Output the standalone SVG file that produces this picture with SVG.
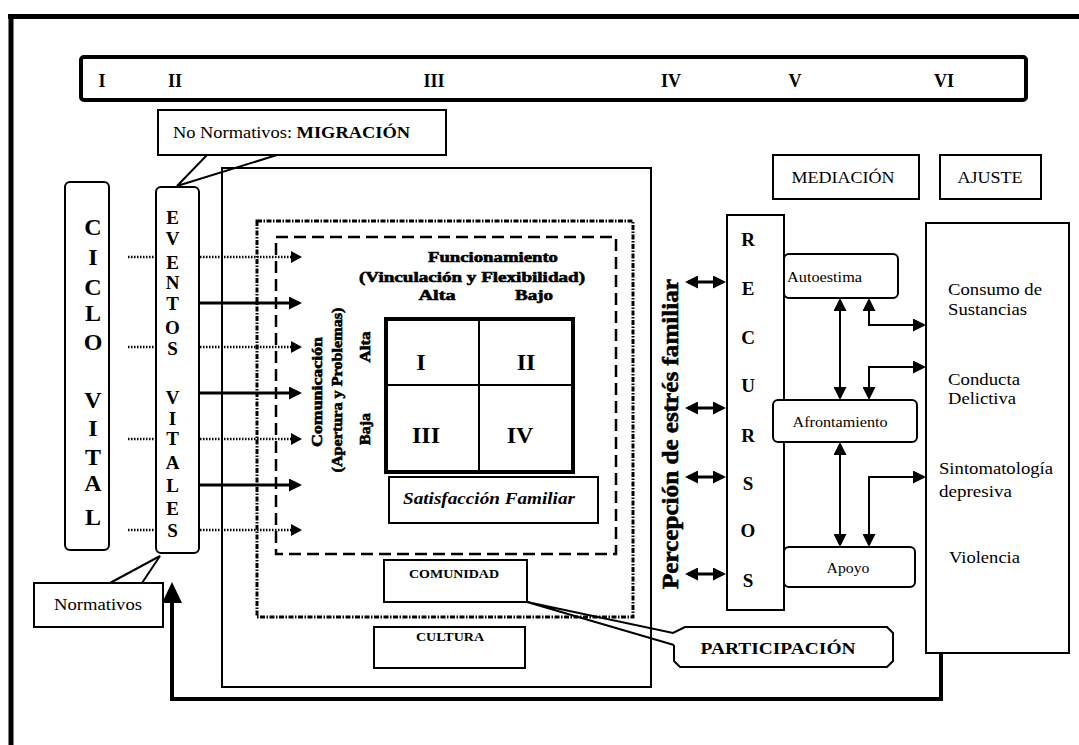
<svg xmlns="http://www.w3.org/2000/svg" width="1079" height="745" viewBox="0 0 1079 745" font-family="'Liberation Serif', 'DejaVu Serif', 'Times New Roman', serif">
<style>
text{font-family:'Liberation Serif','DejaVu Serif','Times New Roman',serif;fill:#000}
.b{font-weight:bold}
.box{fill:#fff;stroke:#000;stroke-width:2}
.ln{fill:none;stroke:#000}
.hv{stroke:#000;stroke-width:0.6}
</style>
<defs>
<marker id="ah" viewBox="0 0 13 13" refX="10" refY="6.5" markerWidth="13" markerHeight="13" markerUnits="userSpaceOnUse" orient="auto-start-reverse"><path d="M0,0 L13,6.5 L0,13 z"/></marker>
<marker id="ad" viewBox="0 0 11 12" refX="9" refY="6" markerWidth="11" markerHeight="12" markerUnits="userSpaceOnUse" orient="auto"><path d="M0,0 L11,6 L0,12 z"/></marker>
<marker id="af" viewBox="0 0 21 20" refX="17" refY="10" markerWidth="21" markerHeight="20" markerUnits="userSpaceOnUse" orient="auto"><path d="M0,0 L21,10 L0,20 z"/></marker>
</defs>
<rect width="1079" height="745" fill="#fff"/>

<g id="frame">
<line x1="8" y1="16.5" x2="1079" y2="16.5" stroke="#000" stroke-width="5"/>
<line x1="11" y1="14" x2="11" y2="745" stroke="#000" stroke-width="5"/>
</g>

<g id="stages">
<rect x="81" y="57" width="945" height="43" rx="3" fill="#fff" stroke="#000" stroke-width="4"/>
<g class="b" font-size="18" text-anchor="middle">
<text x="102" y="87">I</text>
<text x="175" y="87">II</text>
<text x="434" y="87">III</text>
<text x="671" y="87">IV</text>
<text x="795" y="87">V</text>
<text x="944" y="87">VI</text>
</g>
</g>

<g id="sistema">
<rect x="222" y="168" width="429" height="519" fill="none" stroke="#000" stroke-width="2"/>
</g>
<g id="comunidad-limite">
<rect x="257" y="221" width="376" height="396" fill="none" stroke="#000" stroke-width="3" stroke-dasharray="5 1.5 1.5 1.5"/>
</g>
<g id="familia-limite">
<rect x="276" y="237" width="340" height="317" fill="none" stroke="#000" stroke-width="2.5" stroke-dasharray="12 6"/>
</g>

<g id="connectors">
<g class="ln" stroke-width="2.5" stroke-dasharray="1.5 1.5" marker-end="url(#ad)">
<line x1="128" y1="257" x2="300" y2="257"/>
<line x1="128" y1="347" x2="300" y2="347"/>
<line x1="128" y1="439" x2="300" y2="439"/>
<line x1="128" y1="530" x2="300" y2="530"/>
</g>
<g class="ln" stroke-width="3" marker-end="url(#ah)">
<line x1="199" y1="303" x2="299" y2="303"/>
<line x1="199" y1="393" x2="299" y2="393"/>
<line x1="199" y1="485" x2="299" y2="485"/>
</g>
<g class="ln" stroke-width="3" marker-start="url(#ah)" marker-end="url(#ah)">
<line x1="688" y1="282" x2="723" y2="282"/>
<line x1="688" y1="408" x2="723" y2="408"/>
<line x1="688" y1="477" x2="723" y2="477"/>
<line x1="688" y1="574" x2="723" y2="574"/>
</g>
<g class="ln" stroke-width="2" marker-start="url(#ah)" marker-end="url(#ah)">
<line x1="840" y1="301" x2="840" y2="397"/>
<line x1="840" y1="445" x2="840" y2="544"/>
<path d="M869,301 V325 H923"/>
<path d="M923,367 H869 V397"/>
<path d="M923,477 H869 V544"/>
</g>
<path class="ln" stroke-width="4" d="M941,653 V699 H172 V586" marker-end="url(#af)"/>
</g>

<g id="ciclo-vital">
<rect x="65" y="182" width="44" height="368" rx="5" class="box"/>
<g class="b" font-size="24" text-anchor="middle">
<text x="93" y="235">C</text>
<text x="93" y="265">I</text>
<text x="93" y="295">C</text>
<text x="93" y="321">L</text>
<text x="93" y="350">O</text>
<text x="93" y="408">V</text>
<text x="93" y="436">I</text>
<text x="93" y="465">T</text>
<text x="93" y="491">A</text>
<text x="93" y="525">L</text>
</g>
</g>

<g id="eventos-vitales">
<rect x="156" y="187" width="43" height="366" rx="5" class="box"/>
<g class="b" font-size="19" text-anchor="middle">
<text x="172.5" y="224">E</text>
<text x="172.5" y="245">V</text>
<text x="172.5" y="269">E</text>
<text x="172.5" y="289">N</text>
<text x="172.5" y="310">T</text>
<text x="172.5" y="334">O</text>
<text x="172.5" y="355">S</text>
<text x="172.5" y="404">V</text>
<text x="172.5" y="425">I</text>
<text x="172.5" y="445">T</text>
<text x="172.5" y="469">A</text>
<text x="172.5" y="492">L</text>
<text x="172.5" y="515">E</text>
<text x="172.5" y="537">S</text>
</g>
</g>

<g id="no-normativos">
<rect x="158" y="110" width="288" height="45" class="box"/>
<polyline class="ln" stroke-width="2" points="207,155 177,186 277,155"/>
<text x="173" y="138" font-size="17" textLength="237" lengthAdjust="spacingAndGlyphs">No Normativos: <tspan class="b">MIGRACIÓN</tspan></text>
</g>

<g id="normativos">
<rect x="34" y="583" width="129" height="44" class="box"/>
<polyline class="ln" stroke-width="2" points="110,583 160,556 142,583"/>
<text x="98" y="610" font-size="17" text-anchor="middle" textLength="88" lengthAdjust="spacingAndGlyphs">Normativos</text>
</g>

<g id="funcionamiento" class="b hv" font-size="15" text-anchor="middle">
<text x="493" y="262" textLength="130" lengthAdjust="spacingAndGlyphs">Funcionamiento</text>
<text x="472" y="282" textLength="226" lengthAdjust="spacingAndGlyphs">(Vinculación y Flexibilidad)</text>
<text x="437" y="300" textLength="37" lengthAdjust="spacingAndGlyphs">Alta</text>
<text x="534" y="300" textLength="38" lengthAdjust="spacingAndGlyphs">Bajo</text>
</g>

<g id="comunicacion" class="b hv" font-size="15" text-anchor="middle">
<text transform="translate(322,392) rotate(-90)" textLength="110" lengthAdjust="spacingAndGlyphs">Comunicación</text>
<text transform="translate(342,390) rotate(-90)" textLength="165" lengthAdjust="spacingAndGlyphs">(Apertura y Problemas)</text>
<text transform="translate(370,347) rotate(-90)" textLength="31" lengthAdjust="spacingAndGlyphs">Alta</text>
<text transform="translate(370,429) rotate(-90)" textLength="32" lengthAdjust="spacingAndGlyphs">Baja</text>
</g>

<g id="tipologia">
<rect x="386" y="319" width="187" height="153" fill="#fff" stroke="#000" stroke-width="4"/>
<line x1="479" y1="319" x2="479" y2="472" stroke="#000" stroke-width="2"/>
<line x1="386" y1="385" x2="573" y2="385" stroke="#000" stroke-width="2"/>
<g class="b" font-size="24" text-anchor="middle">
<text x="421" y="370">I</text>
<text x="526" y="370">II</text>
<text x="426" y="443">III</text>
<text x="520" y="443">IV</text>
</g>
</g>

<g id="satisfaccion">
<rect x="389" y="477" width="209" height="46" class="box"/>
<text x="489" y="504" font-size="16" font-weight="bold" font-style="italic" text-anchor="middle" textLength="172" lengthAdjust="spacingAndGlyphs">Satisfacción Familiar</text>
</g>

<g id="comunidad">
<rect x="384" y="560" width="143" height="42" class="box"/>
<text x="454" y="578" class="b" font-size="13" text-anchor="middle" textLength="90" lengthAdjust="spacingAndGlyphs">COMUNIDAD</text>
</g>

<g id="cultura">
<rect x="374" y="627" width="151" height="41" class="box"/>
<text x="450" y="641" class="b" font-size="13" text-anchor="middle" textLength="68" lengthAdjust="spacingAndGlyphs">CULTURA</text>
</g>

<g id="participacion">
<path d="M685,627 H887 L893,633 V661 L887,667 H680 L674,661 V633 Z" fill="#fff"/>
<path class="ln" stroke-width="2" d="M674,645 V661 L680,667 H887 L893,661 V633 L887,627 H685 L673,633 L527,602 L674,645"/>
<text x="778" y="654" class="b" font-size="17" text-anchor="middle" textLength="155" lengthAdjust="spacingAndGlyphs">PARTICIPACIÓN</text>
</g>

<g id="percepcion">
<text transform="translate(678,434) rotate(-90)" class="b hv" font-size="24" text-anchor="middle" textLength="310" lengthAdjust="spacingAndGlyphs">Percepción de estrés familiar</text>
</g>

<g id="recursos">
<rect x="727" y="215" width="57" height="395" class="box"/>
<g class="b" font-size="19" text-anchor="middle">
<text x="748" y="246">R</text>
<text x="748" y="295">E</text>
<text x="748" y="344">C</text>
<text x="748" y="392">U</text>
<text x="748" y="442">R</text>
<text x="748" y="490">S</text>
<text x="748" y="537">O</text>
<text x="748" y="587">S</text>
</g>
</g>

<g id="autoestima">
<rect x="784" y="254" width="114" height="44" rx="5" class="box"/>
<text x="787" y="282" font-size="15" textLength="75" lengthAdjust="spacingAndGlyphs">Autoestima</text>
</g>

<g id="afrontamiento">
<rect x="773" y="400" width="144" height="42" rx="5" class="box"/>
<text x="840" y="427" font-size="15" text-anchor="middle" textLength="95" lengthAdjust="spacingAndGlyphs">Afrontamiento</text>
</g>

<g id="apoyo">
<rect x="784" y="547" width="131" height="40" rx="5" class="box"/>
<text x="848" y="573" font-size="15" text-anchor="middle" textLength="43" lengthAdjust="spacingAndGlyphs">Apoyo</text>
</g>

<g id="mediacion">
<rect x="773" y="155" width="146" height="44" class="box"/>
<text x="843" y="183" font-size="17" text-anchor="middle" textLength="103" lengthAdjust="spacingAndGlyphs">MEDIACIÓN</text>
</g>

<g id="ajuste">
<rect x="940" y="155" width="101" height="44" class="box"/>
<text x="990" y="183" font-size="17" text-anchor="middle" textLength="65" lengthAdjust="spacingAndGlyphs">AJUSTE</text>
</g>

<g id="ajuste-resultados">
<rect x="926" y="223" width="143" height="430" class="box"/>
<g font-size="17">
<text x="948" y="295" textLength="94" lengthAdjust="spacingAndGlyphs">Consumo de</text>
<text x="948" y="315" textLength="79" lengthAdjust="spacingAndGlyphs">Sustancias</text>
<text x="948" y="385" textLength="72" lengthAdjust="spacingAndGlyphs">Conducta</text>
<text x="948" y="404" textLength="68" lengthAdjust="spacingAndGlyphs">Delictiva</text>
<text x="939" y="474" textLength="114" lengthAdjust="spacingAndGlyphs">Sintomatología</text>
<text x="939" y="497" textLength="73" lengthAdjust="spacingAndGlyphs">depresiva</text>
<text x="949" y="563" textLength="71" lengthAdjust="spacingAndGlyphs">Violencia</text>
</g>
</g>
</svg>
